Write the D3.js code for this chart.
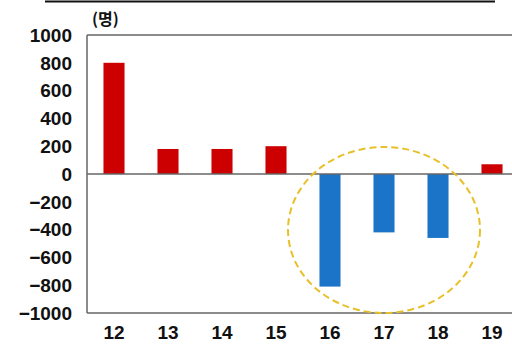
<!DOCTYPE html>
<html><head><meta charset="utf-8">
<script src="https://cdn.jsdelivr.net/npm/d3@7"></script>
<style>body{margin:0;background:#fff;}svg{display:block;}</style>
</head><body>
<script>
const categories = ["12","13","14","15","16","17","18","19"];
const values = [800, 180, 180, 200, -810, -420, -460, 70];
const yTicks = [1000,800,600,400,200,0,-200,-400,-600,-800,-1000];
const unitLabel = "(명)";

(function(){
const W = 512, H = 345;
const svg = d3.select("body").append("svg").attr("width", W).attr("height", H);
const mLeft = 87, mTop = 35, mBottom = 313, mRight = 519;

const x = d3.scaleBand().domain(categories).range([mLeft, mRight]).paddingInner(0.61).paddingOuter(0.305);
const y = d3.scaleLinear().domain([-1000, 1000]).range([mBottom, mTop]);
const fmt = d3.format("d");

// top decorative line
svg.append("line").attr("x1",45).attr("x2",495).attr("y1",1.5).attr("y2",1.5).attr("stroke","#111").attr("stroke-width",2);

// frame
svg.append("line").attr("x1",mLeft).attr("x2",W).attr("y1",mTop).attr("y2",mTop).attr("stroke","#666").attr("stroke-width",1.5);
svg.append("line").attr("x1",mLeft).attr("x2",W).attr("y1",mBottom).attr("y2",mBottom).attr("stroke","#666").attr("stroke-width",1.5);
svg.append("line").attr("x1",mLeft).attr("x2",mLeft).attr("y1",mTop).attr("y2",mBottom).attr("stroke","#666").attr("stroke-width",1.5);

// bars
svg.selectAll("rect.bar").data(categories).enter().append("rect")
  .attr("x", d => x(d))
  .attr("width", x.bandwidth())
  .attr("y", (d,i) => y(Math.max(0, values[i])))
  .attr("height", (d,i) => Math.abs(y(values[i]) - y(0)))
  .attr("fill", (d,i) => values[i] >= 0 ? "#cc0000" : "#1b74c8");

// zero line
svg.append("line").attr("x1",mLeft).attr("x2",W).attr("y1",y(0)).attr("y2",y(0)).attr("stroke","#666").attr("stroke-width",1.5);

// y tick labels
svg.selectAll("text.yt").data(yTicks).enter().append("text")
  .attr("x", 72).attr("y", d => y(d)).attr("dy","0.36em")
  .attr("text-anchor","end")
  .attr("font-family","Liberation Sans, Arial, sans-serif").attr("font-weight","bold").attr("font-size",19)
  .attr("fill","#111").text(d => fmt(d));

// x labels
svg.selectAll("text.xt").data(categories).enter().append("text")
  .attr("x", d => x(d) + x.bandwidth()/2).attr("y", 339)
  .attr("text-anchor","middle")
  .attr("font-family","Liberation Sans, Arial, sans-serif").attr("font-weight","bold").attr("font-size",19)
  .attr("fill","#111").text(d => d);

// unit label
svg.append("text").attr("x",92).attr("y",25)
  .attr("font-family","Noto Sans CJK KR, sans-serif").attr("font-weight","bold").attr("font-size",16)
  .attr("fill","#111").text(unitLabel);

// highlight ellipse around 16-18
const cx = (x("16") + x("18") + x.bandwidth())/2;
svg.append("ellipse").attr("cx", cx).attr("cy", 230).attr("rx", 96).attr("ry", 83)
  .attr("fill","none").attr("stroke","#e8c02a").attr("stroke-width",2).attr("stroke-dasharray","7,4");
})();
</script>
</body></html>
